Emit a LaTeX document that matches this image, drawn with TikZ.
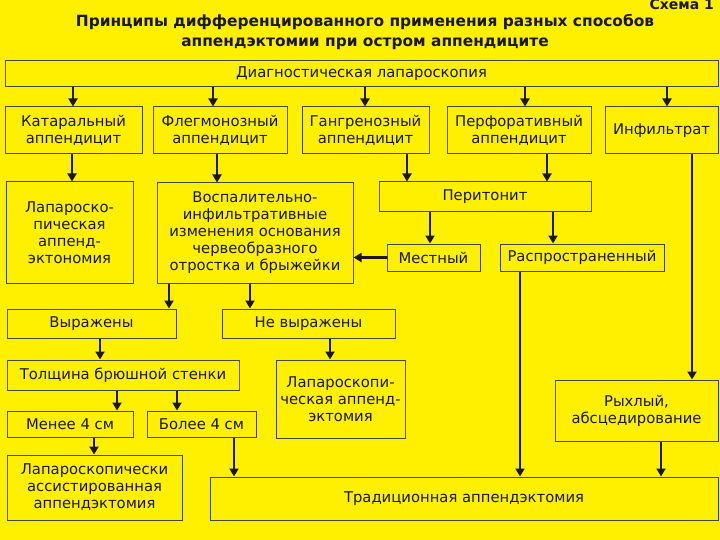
\documentclass[tikz,border=0pt]{standalone}
\usepackage{fontspec}
\setmainfont{DejaVu Sans}
\usetikzlibrary{arrows.meta}
\definecolor{fondoamarillo}{RGB}{255,240,0}
\definecolor{borde}{RGB}{70,70,60}
\tikzset{
  caja/.style={draw=borde, line width=1pt, fill=fondoamarillo, align=center,
    inner sep=1pt, text=black!90, font=\fontsize{14.8}{17}\selectfont},
  flecha/.style={-{Triangle[length=8pt,width=9pt]}, line width=2.4pt, black!90},
}
\begin{document}
\begin{tikzpicture}[x=1pt,y=-1pt]
\useasboundingbox (0,0) rectangle (720,540);
\fill[fondoamarillo] (0,0) rectangle (720,540);
% titulo
\path (646,4) node[anchor=west, text=black!90, font=\bfseries\fontsize{14}{15}\selectfont] (nodeEsquema) {Схема 1};
\path (365,32) node[align=center, text=black!90, font=\bfseries\fontsize{15.4}{20}\selectfont] (nodeTitulo) {Принципы дифференцированного применения разных способов\\аппендэктомии при остром аппендиците};
% fila 1
\path (361.5,74) node[caja, minimum width=713pt, minimum height=26pt] (nodeDiag) {Диагностическая лапароскопия};
\path (73.5,130.5) node[caja, minimum width=137pt, minimum height=47pt] (nodeKat) {Катаральный\\аппендицит};
\path (220,130.5) node[caja, minimum width=134pt, minimum height=47pt] (nodeFleg) {Флегмонозный\\аппендицит};
\path (365.5,130.5) node[caja, minimum width=127pt, minimum height=47pt] (nodeGang) {Гангренозный\\аппендицит};
\path (519,130.5) node[caja, minimum width=144pt, minimum height=47pt] (nodePerf) {Перфоративный\\аппендицит};
\path (661.5,130.5) node[caja, minimum width=113pt, minimum height=47pt] (nodeInf) {Инфильтрат};
% fila 2
\path (69.5,232.5) node[caja, minimum width=127pt, minimum height=101pt] (nodeLap) {Лапароско-\\пическая\\аппенд-\\эктономия};
\path (255,233) node[caja, minimum width=196pt, minimum height=100pt] (nodeVosp) {Воспалительно-\\инфильтративные\\изменения основания\\червеобразного\\отростка и брыжейки};
\path (485,197) node[caja, minimum width=212pt, minimum height=30pt] (nodePerit) {Перитонит};
\path (433.5,257.5) node[caja, minimum width=93pt, minimum height=27pt] (nodeMest) {Местный};
\path (582,257.5) node[caja, minimum width=164pt, minimum height=27pt] (nodeRasp) {Распространенный};
% fila 3
\path (91.5,323.5) node[caja, minimum width=169pt, minimum height=29pt] (nodeVyr) {Выражены};
\path (308.5,323.5) node[caja, minimum width=173pt, minimum height=29pt] (nodeNeVyr) {Не выражены};
\path (123,375) node[caja, minimum width=232pt, minimum height=30pt] (nodeTol) {Толщина брюшной стенки};
\path (340.5,399) node[caja, minimum width=129pt, minimum height=78pt] (nodeLapDos) {Лапароскопи-\\ческая аппенд-\\эктомия};
\path (70,424) node[caja, minimum width=126pt, minimum height=26pt] (nodeMen) {Менее 4 см};
\path (201.5,424) node[caja, minimum width=109pt, minimum height=26pt] (nodeBol) {Более 4 см};
\path (94.5,487.5) node[caja, minimum width=175pt, minimum height=65pt] (nodeAsist) {Лапароскопически\\ассистированная\\аппендэктомия};
\path (636.5,410.5) node[caja, minimum width=163pt, minimum height=61pt] (nodeRyh) {Рыхлый,\\абсцедирование};
\path (464,498.5) node[caja, minimum width=508pt, minimum height=43pt] (nodeTrad) {Традиционная аппендэктомия};
% flechas
\draw[flecha] (nodeDiag.south -| 73,0) -- (nodeKat.north -| 73,0);
\draw[flecha] (nodeDiag.south -| 213,0) -- (nodeFleg.north -| 213,0);
\draw[flecha] (nodeDiag.south -| 365,0) -- (nodeGang.north -| 365,0);
\draw[flecha] (nodeDiag.south -| 525,0) -- (nodePerf.north -| 525,0);
\draw[flecha] (nodeDiag.south -| 667,0) -- (nodeInf.north -| 667,0);
\draw[flecha] (nodeKat.south -| 72,0) -- (nodeLap.north -| 72,0);
\draw[flecha] (nodeFleg.south -| 217,0) -- (nodeVosp.north -| 217,0);
\draw[flecha] (nodeGang.south -| 407,0) -- (nodePerit.north -| 407,0);
\draw[flecha] (nodePerf.south -| 547,0) -- (nodePerit.north -| 547,0);
\draw[flecha] (nodePerit.south -| 430,0) -- (nodeMest.north -| 430,0);
\draw[flecha] (nodePerit.south -| 553,0) -- (nodeRasp.north -| 553,0);
\draw[flecha] (nodeMest.west) -- (nodeVosp.east |- nodeMest.west);
\draw[flecha] (nodeInf.south -| 692,0) -- (nodeRyh.north -| 692,0);
\draw[flecha] (nodeRasp.south -| 520,0) -- (nodeTrad.north -| 520,0);
\draw[flecha] (nodeVosp.south -| 169,0) -- (nodeVyr.north -| 169,0);
\draw[flecha] (nodeVosp.south -| 250,0) -- (nodeNeVyr.north -| 250,0);
\draw[flecha] (nodeVyr.south -| 100,0) -- (nodeTol.north -| 100,0);
\draw[flecha] (nodeNeVyr.south -| 330,0) -- (nodeLapDos.north -| 330,0);
\draw[flecha] (nodeTol.south -| 117,0) -- (nodeMen.north -| 117,0);
\draw[flecha] (nodeTol.south -| 177,0) -- (nodeBol.north -| 177,0);
\draw[flecha] (nodeMen.south -| 94,0) -- (nodeAsist.north -| 94,0);
\draw[flecha] (nodeBol.south -| 234,0) -- (nodeTrad.north -| 234,0);
\draw[flecha] (nodeRyh.south -| 661,0) -- (nodeTrad.north -| 661,0);
\end{tikzpicture}
\end{document}
